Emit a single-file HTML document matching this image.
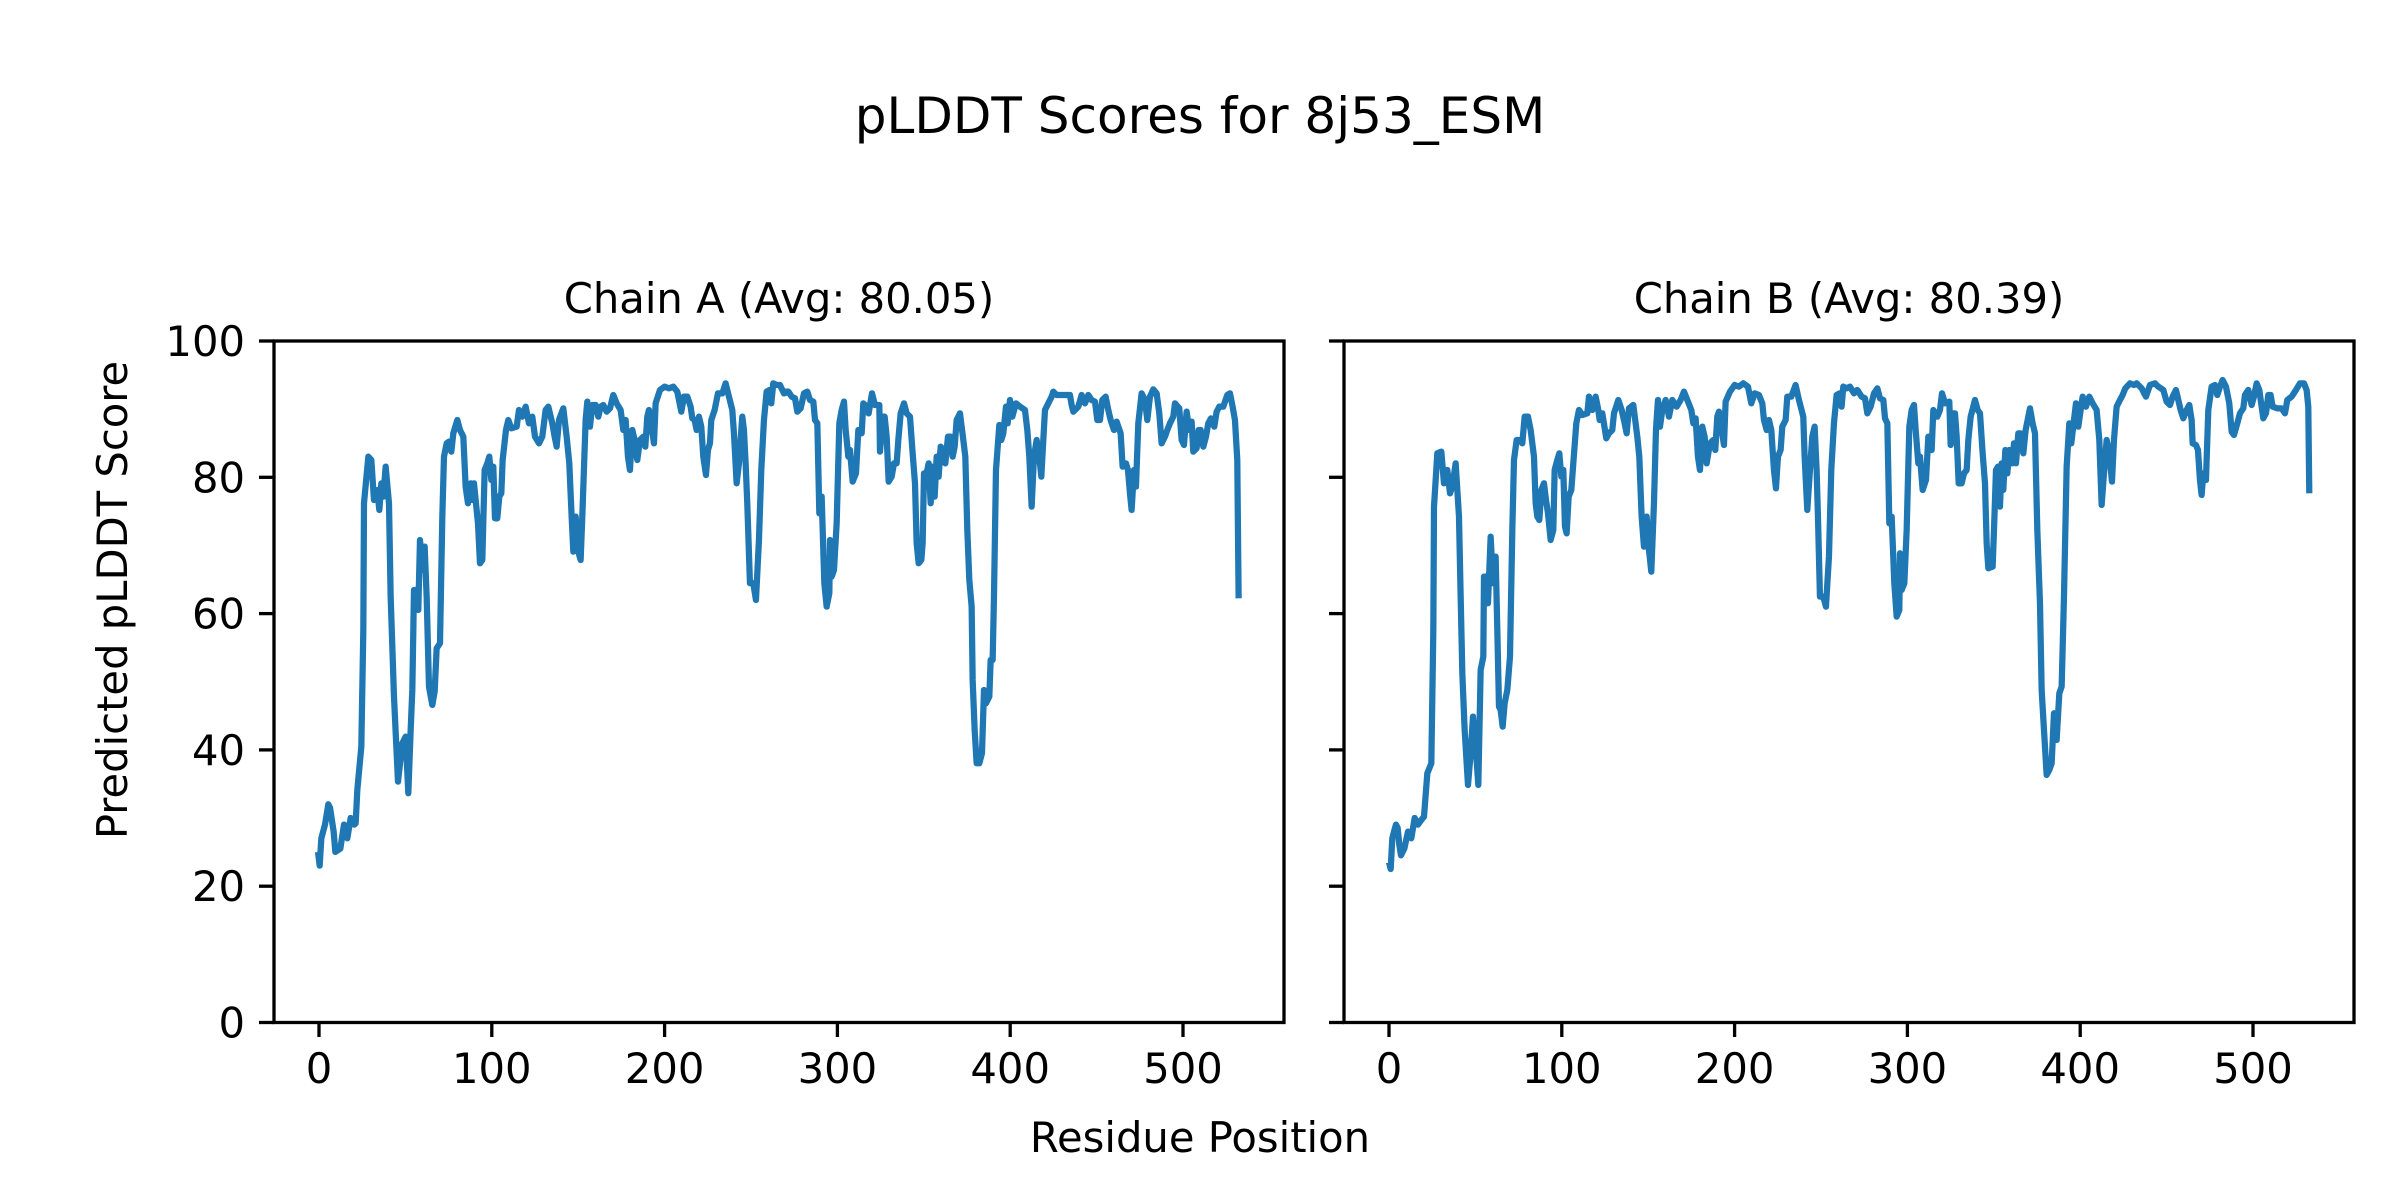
<!DOCTYPE html>
<html><head><meta charset="utf-8"><style>html,body{margin:0;padding:0;background:#fff}svg{display:block}</style></head>
<body>
<svg width="2400" height="1200" viewBox="0 0 2400 1200" xmlns="http://www.w3.org/2000/svg" font-family="DejaVu Sans, Liberation Sans, sans-serif">
<rect width="2400" height="1200" fill="#fff"/>
<text x="1200" y="133" font-size="50" text-anchor="middle">pLDDT Scores for 8j53_ESM</text>
<text x="779" y="313" font-size="41.7" text-anchor="middle">Chain A (Avg: 80.05)</text>
<text x="1849" y="313" font-size="41.7" text-anchor="middle">Chain B (Avg: 80.39)</text>
<text x="1200" y="1152" font-size="41.7" text-anchor="middle">Residue Position</text>
<text transform="translate(127,600) rotate(-90)" font-size="41.7" text-anchor="middle">Predicted pLDDT Score</text>

<g stroke="#000" stroke-width="3.3">
<line x1="259" y1="1022.5" x2="274" y2="1022.5"/><line x1="259" y1="886.2" x2="274" y2="886.2"/><line x1="259" y1="749.9" x2="274" y2="749.9"/><line x1="259" y1="613.6" x2="274" y2="613.6"/><line x1="259" y1="477.3" x2="274" y2="477.3"/><line x1="259" y1="341" x2="274" y2="341"/>
<line x1="1329" y1="1022.5" x2="1344" y2="1022.5"/><line x1="1329" y1="886.2" x2="1344" y2="886.2"/><line x1="1329" y1="749.9" x2="1344" y2="749.9"/><line x1="1329" y1="613.6" x2="1344" y2="613.6"/><line x1="1329" y1="477.3" x2="1344" y2="477.3"/><line x1="1329" y1="341" x2="1344" y2="341"/>
<line x1="319" y1="1022.5" x2="319" y2="1037"/><line x1="491.8" y1="1022.5" x2="491.8" y2="1037"/><line x1="664.6" y1="1022.5" x2="664.6" y2="1037"/><line x1="837.4" y1="1022.5" x2="837.4" y2="1037"/><line x1="1010.2" y1="1022.5" x2="1010.2" y2="1037"/><line x1="1183" y1="1022.5" x2="1183" y2="1037"/>
<line x1="1389" y1="1022.5" x2="1389" y2="1037"/><line x1="1561.8" y1="1022.5" x2="1561.8" y2="1037"/><line x1="1734.6" y1="1022.5" x2="1734.6" y2="1037"/><line x1="1907.4" y1="1022.5" x2="1907.4" y2="1037"/><line x1="2080.2" y1="1022.5" x2="2080.2" y2="1037"/><line x1="2253" y1="1022.5" x2="2253" y2="1037"/>
</g>
<g font-size="41.7" text-anchor="end">
<text x="245" y="1037.5">0</text><text x="245" y="901.2">20</text><text x="245" y="764.9">40</text><text x="245" y="628.6">60</text><text x="245" y="492.3">80</text><text x="245" y="356">100</text>
</g>
<g font-size="41.7" text-anchor="middle">
<text x="319" y="1083">0</text><text x="491.8" y="1083">100</text><text x="664.6" y="1083">200</text><text x="837.4" y="1083">300</text><text x="1010.2" y="1083">400</text><text x="1183" y="1083">500</text>
<text x="1389" y="1083">0</text><text x="1561.8" y="1083">100</text><text x="1734.6" y="1083">200</text><text x="1907.4" y="1083">300</text><text x="2080.2" y="1083">400</text><text x="2253" y="1083">500</text>
</g>

<g fill="none" stroke="#1f77b4" stroke-width="18.75" stroke-linejoin="round">
<polyline transform="translate(274,330) scale(0.3333)" points="132,1566 137,1607 142,1525 153,1484 163,1423 168,1433 179,1505 184,1566 199,1556 210,1484 220,1525 230,1464 241,1484 245,1480 250,1380 262,1250 268,900 270,520 283,380 292,390 300,510 310,480 316,540 322,460 328,500 335,410 345,520 350,800 360,1100 372,1355 385,1240 395,1220 403,1390 410,1200 415,1080 420,780 428,780 433,840 438,630 445,720 452,650 458,800 465,1070 475,1125 482,1085 488,955 498,940 505,560 510,380 518,340 525,335 532,365 538,310 550,270 558,300 568,320 575,470 582,520 590,460 596,510 600,460 606,520 612,580 618,700 625,690 632,420 640,400 646,380 652,450 658,410 663,565 670,565 676,500 682,490 686,390 696,300 703,270 712,295 728,290 735,240 745,260 755,230 765,280 775,260 783,320 795,340 805,320 815,240 823,230 835,280 842,320 848,350 855,270 868,235 878,320 886,400 893,560 898,665 905,560 913,665 920,690 925,560 935,270 940,215 948,290 955,225 965,225 973,260 980,230 988,225 998,245 1008,235 1018,195 1028,220 1040,240 1048,300 1055,270 1062,380 1068,420 1075,300 1082,330 1090,390 1098,330 1108,320 1114,350 1120,260 1125,240 1140,340 1145,220 1158,180 1172,170 1185,175 1198,170 1210,185 1222,245 1230,200 1240,200 1250,230 1255,265 1262,270 1268,300 1275,260 1282,290 1288,380 1296,435 1302,360 1308,340 1312,270 1322,240 1332,190 1345,190 1355,160 1365,200 1375,240 1380,310 1388,460 1395,400 1405,260 1410,300 1415,400 1420,520 1428,760 1438,760 1446,810 1455,630 1462,420 1470,270 1478,185 1487,180 1492,220 1498,160 1508,165 1518,165 1530,190 1548,185"/>
<polyline transform="translate(780,330) scale(0.3333)" points="12,185 25,185 35,200 45,205 52,245 62,235 72,190 82,185 90,210 100,215 105,270 112,280 118,550 125,500 133,760 140,830 148,790 150,630 155,740 162,720 170,580 178,280 185,240 192,215 197,300 205,380 210,360 218,455 228,430 235,300 245,310 250,220 260,230 266,250 276,190 285,225 298,225 300,365 308,260 314,260 320,320 326,455 335,440 342,400 350,400 355,330 362,250 372,220 380,250 390,260 398,370 405,460 410,640 416,700 424,690 428,640 432,430 440,430 446,400 452,520 458,410 464,500 470,380 476,440 482,350 490,360 496,400 504,320 512,320 518,380 524,350 530,270 540,250 550,330 556,380 562,600 568,750 575,830 578,1050 584,1200 590,1300 598,1300 606,1270 612,1080 618,1120 628,1100 632,990 638,990 642,800 648,420 658,285 664,330 670,310 678,230 683,280 690,210 697,260 708,220 720,230 735,240 742,300 748,380 755,530 762,380 770,330 778,380 784,440 790,330 795,240 805,220 815,200 820,185 830,195 845,195 858,195 870,195 875,225 880,245 895,230 905,195 915,220 925,195 935,210 945,215 952,270 960,270 967,210 977,200 985,240 992,270 1002,300 1010,275 1022,310 1028,410 1038,400 1044,420 1050,490 1055,540 1062,420 1068,470 1075,280 1085,190 1095,210 1102,270 1110,200 1120,178 1130,190 1138,250 1145,340 1155,320 1162,300 1170,280 1180,260 1185,220 1198,235 1205,330 1212,345 1220,245 1228,300 1235,275 1240,365 1250,355 1256,300 1262,300 1270,350 1278,320 1285,280 1293,265 1303,290 1310,245 1318,230 1330,230 1342,195 1350,190 1358,230 1365,270 1372,390 1376,805"/>
<polyline transform="translate(1344,330) scale(0.3333)" points="135,1597 140,1617 145,1525 150,1505 156,1484 161,1494 166,1545 171,1576 181,1556 192,1505 202,1525 212,1464 222,1484 232,1470 240,1460 250,1330 262,1300 268,900 270,530 280,370 292,365 300,460 310,420 318,490 325,470 335,400 345,560 350,800 355,1030 362,1200 372,1365 380,1270 387,1160 395,1250 403,1365 410,1020 418,980 420,740 428,740 432,820 440,620 447,760 455,680 460,900 465,1130 470,1140 476,1190 482,1120 490,1080 498,980 505,600 510,390 518,330 528,330 535,340 542,260 552,260 560,300 570,380 575,520 580,560 586,570 592,480 600,460 606,510 612,550 620,630 628,600 632,420 640,390 646,370 652,440 658,420 663,590 668,610 674,500 682,480 688,400 697,280 705,240 715,255 730,250 735,200 745,240 755,200 763,240 767,270 775,250 783,300 787,325 795,310 805,300 810,250 823,210 833,240 842,280 848,310 855,235 868,225 880,320 886,380 893,560 900,650 908,560 915,660 922,725 930,520 936,300 942,210 948,290 955,240 965,210 975,260 985,210 998,230 1010,210 1020,185 1030,210 1042,240 1048,280 1055,265 1062,380 1068,420 1075,290 1082,320 1088,400 1098,340 1108,330 1114,360 1120,260 1125,245 1140,345 1145,215 1158,185 1172,165 1185,170 1198,160 1212,170 1222,220 1232,190 1245,195 1255,220 1260,270 1268,300 1275,270 1282,300 1290,420 1296,475 1302,380 1310,360 1315,290 1325,270 1330,200 1342,200 1355,165 1365,210 1378,260 1382,380 1390,540 1398,420 1405,320 1412,290 1418,420 1422,560 1428,800 1438,800 1446,830 1455,680 1462,420 1470,280 1478,195 1487,190 1493,230 1498,170 1508,175 1518,170 1530,190 1536,185"/>
<polyline transform="translate(1850,330) scale(0.3333)" points="12,185 22,180 35,200 45,205 52,250 62,230 72,190 82,175 90,205 100,210 105,265 112,280 118,580 125,560 133,760 140,860 148,840 150,670 155,780 163,760 170,600 178,290 185,240 192,225 197,300 205,400 210,380 218,480 228,450 235,320 245,360 250,240 262,260 270,240 276,190 285,220 298,215 302,345 308,250 315,250 320,320 326,460 335,460 342,430 350,420 355,330 362,260 375,210 383,240 390,250 398,370 405,460 410,640 415,715 428,710 432,600 438,420 444,410 450,530 455,400 460,480 466,360 472,430 478,360 487,400 492,340 498,400 505,310 512,310 520,370 527,300 540,235 548,280 555,310 562,600 570,820 575,1080 582,1200 590,1335 598,1320 605,1300 612,1150 620,1230 628,1090 635,1070 642,800 650,410 658,280 664,340 672,270 678,220 685,290 692,240 698,200 708,230 718,200 728,220 740,240 748,330 755,525 762,430 770,330 778,370 786,455 792,330 800,230 810,210 818,195 826,175 840,160 852,165 860,160 875,175 888,200 900,165 915,160 925,170 940,180 950,215 960,225 968,200 978,180 985,210 992,240 1000,265 1010,240 1018,225 1025,270 1028,340 1038,345 1044,360 1050,450 1055,495 1060,430 1068,450 1075,240 1085,170 1095,165 1102,195 1110,170 1118,150 1128,170 1138,220 1145,305 1152,315 1162,280 1170,250 1180,235 1185,195 1195,180 1205,225 1212,200 1220,160 1228,180 1240,265 1248,250 1255,195 1262,195 1268,230 1282,235 1295,235 1305,250 1312,210 1325,200 1338,180 1350,160 1362,160 1370,180 1375,230 1378,490"/>
</g>

<g fill="none" stroke="#000" stroke-width="3.3" stroke-linecap="square">
<rect x="274" y="341" width="1010" height="681.5"/>
<rect x="1344" y="341" width="1010" height="681.5"/>
</g>
</svg>
</body></html>
